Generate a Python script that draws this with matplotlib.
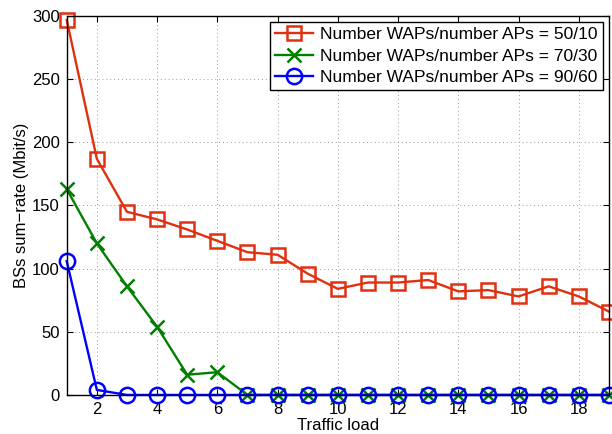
import numpy as np
import matplotlib
matplotlib.use('Agg')
import matplotlib.pyplot as plt

plt.rcParams['font.family'] = ['Liberation Sans', 'DejaVu Sans']

# data
load = np.arange(1, 20)
rate_50_10 = [297, 187, 145, 139, 131, 122, 113, 111, 96, 84, 89, 89, 91, 82, 83, 78, 86, 78, 66]
rate_70_30 = [163, 120, 86, 54, 16, 18, 0, 0, 0, 0, 0, 0, 0, 0, 0, 0, 0, 0, 0]
rate_90_60 = [106, 4, 0, 0, 0, 0, 0, 0, 0, 0, 0, 0, 0, 0, 0, 0, 0, 0, 0]
labels = ['Number WAPs/number APs = 50/10',
          'Number WAPs/number APs = 70/30',
          'Number WAPs/number APs = 90/60']

fig = plt.figure(figsize=(6.12, 4.34), dpi=100)
ax = fig.add_axes([0.109, 0.09, 0.886, 0.873])

ax.plot(load, rate_50_10, color='#e03010', marker='s', markersize=10,
        markerfacecolor='none', markeredgewidth=1.8, linewidth=1.7, label=labels[0], clip_on=False)
ax.plot(load, rate_70_30, color='#008000', marker='x', markersize=10,
        markeredgewidth=1.8, linewidth=1.7, label=labels[1], clip_on=False)
ax.plot(load, rate_90_60, color='#0000ff', marker='o', markersize=11,
        markerfacecolor='none', markeredgewidth=1.8, linewidth=1.7, label=labels[2], clip_on=False)

ax.set_xlim(1, 19)
ax.set_ylim(0, 300)
ax.set_xticks(np.arange(2, 20, 2))
ax.set_yticks(np.arange(0, 301, 50))
ax.tick_params(direction='in', top=True, right=True, labelsize=12, length=4, pad=5)
ax.grid(True, linestyle=(0, (1, 3)), color='#999999', linewidth=0.7)
for s in ax.spines.values():
    s.set_linewidth(1.0)

ax.set_xlabel('Traffic load', fontsize=12, labelpad=1)
ax.set_ylabel('BSs sum\u2212rate (Mbit/s)', fontsize=12, labelpad=2)

leg = ax.legend(loc='upper right', fontsize=12.5, fancybox=False, framealpha=1,
                edgecolor='black', borderaxespad=0.35, handlelength=2.2,
                labelspacing=0.35, borderpad=0.3, handletextpad=0.4)
leg.get_frame().set_linewidth(1.0)

plt.savefig('out.png', dpi=100)
